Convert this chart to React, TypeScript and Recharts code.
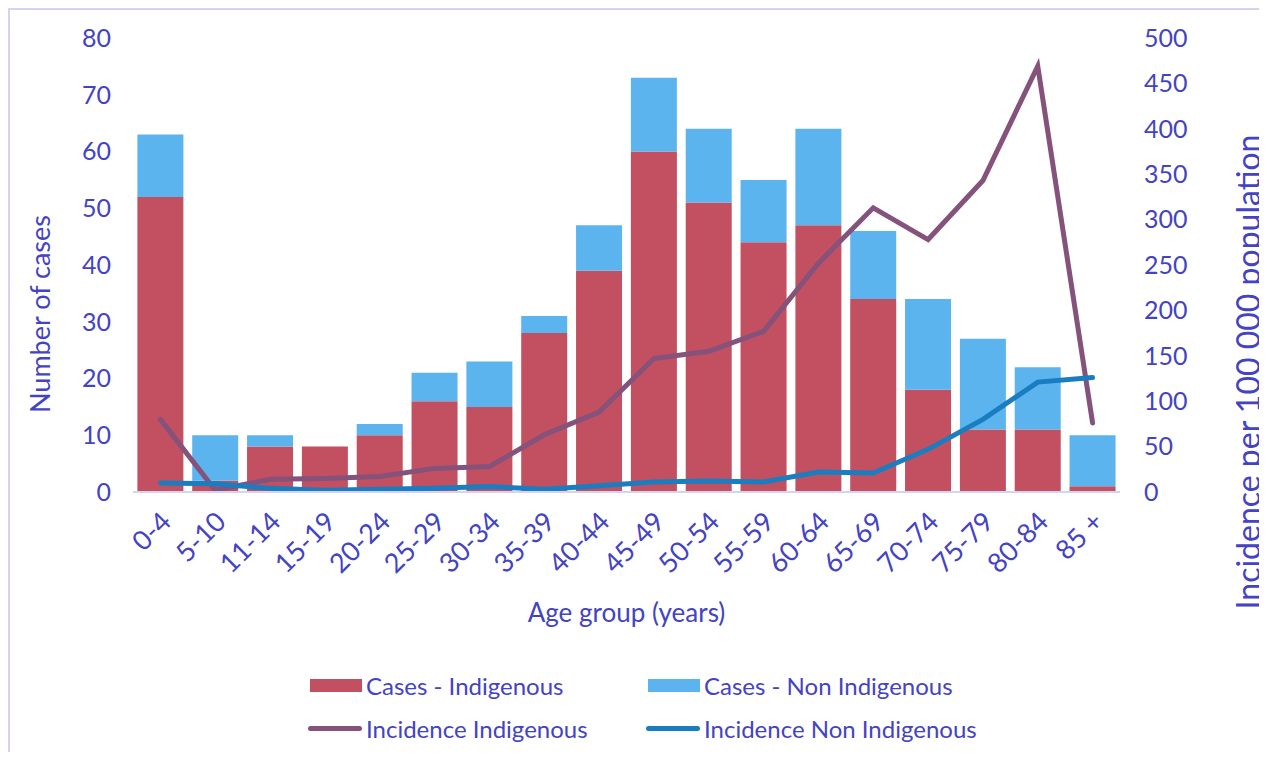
import React from "react";
import {
  Bar,
  ComposedChart,
  Legend,
  Line,
  XAxis,
  YAxis
} from "recharts";

const ageGroups = [
  "0-4", "5-10", "11-14", "15-19", "20-24", "25-29", "30-34", "35-39", "40-44",
  "45-49", "50-54", "55-59", "60-64", "65-69", "70-74", "75-79", "80-84", "85 +"
];
const casesIndigenous = [52, 2, 8, 8, 10, 16, 15, 28, 39, 60, 51, 44, 47, 34, 18, 11, 11, 1];
const casesNonIndigenous = [11, 8, 2, 0, 2, 5, 8, 3, 8, 13, 13, 11, 17, 12, 16, 16, 11, 9];
const incidenceIndigenous = [80, 2, 14, 15, 17, 26, 28, 63, 88, 147, 155, 177, 252, 313, 278, 343, 469, 76];
const incidenceNonIndigenous = [10, 9, 4, 2, 3, 4, 6, 3, 7, 11, 12, 11, 22, 21, 47, 80, 121, 126];

const leftTicks = [0, 10, 20, 30, 40, 50, 60, 70, 80];
const rightTicks = [0, 50, 100, 150, 200, 250, 300, 350, 400, 450, 500];

const data = ageGroups.map((age, i) => ({
  age,
  casesInd: casesIndigenous[i],
  casesNon: casesNonIndigenous[i],
  incInd: incidenceIndigenous[i],
  incNon: incidenceNonIndigenous[i]
}));

const TEXT = "#4343C3";
const FONT = "Lato, 'Open Sans', sans-serif";
const RED = "#C25060";
const LIGHT_BLUE = "#5CB4EF";
const PURPLE = "#84527A";
const BLUE = "#1A7DC0";

function XTick({ x, y, payload }: any) {
  return (
    <g transform={`translate(${x + 6},${y + 17})`}>
      <text
        textAnchor="end"
        transform="rotate(-45)"
        fill={TEXT}
        fontSize={27}
        fontFamily={FONT}
        dy={9}
      >
        {payload.value}
      </text>
    </g>
  );
}

function RotatedLabel({ viewBox, value, dx, dy, size }: any) {
  const cx = viewBox.x + viewBox.width / 2 + dx;
  const cy = viewBox.y + viewBox.height / 2 + dy;
  return (
    <text
      x={cx}
      y={cy}
      textAnchor="middle"
      dominantBaseline="central"
      transform={`rotate(-90, ${cx}, ${cy})`}
      fill={TEXT}
      fontSize={size}
      fontFamily={FONT}
    >
      {value}
    </text>
  );
}

function LegendBox() {
  const item = (kind: "bar" | "line", color: string, label: string) => (
    <div style={{ display: "flex", alignItems: "center", height: 43 }}>
      {kind === "bar" ? (
        <span style={{ width: 52, height: 13, background: color, marginLeft: 2 }} />
      ) : (
        <span style={{ width: 54, height: 5, borderRadius: 3, background: color }} />
      )}
      <span style={{ marginLeft: 4, fontSize: 24, color: TEXT, fontFamily: FONT }}>{label}</span>
    </div>
  );
  return (
    <div style={{ display: "grid", gridTemplateColumns: "338px 340px", paddingLeft: 298 }}>
      {item("bar", RED, "Cases - Indigenous")}
      {item("bar", LIGHT_BLUE, "Cases - Non Indigenous")}
      {item("line", PURPLE, "Incidence Indigenous")}
      {item("line", BLUE, "Incidence Non Indigenous")}
    </div>
  );
}

export default function App() {
  return (
    <div
      style={{
        width: 1259,
        height: 744,
        borderTop: "2px solid #D4D4F2",
        borderLeft: "2px solid #D4D4F2",
        boxSizing: "border-box",
        background: "#fff",
        overflow: "hidden"
      }}
    >
      <ComposedChart
        width={1257}
        height={742}
        data={data}
        margin={{ top: 28, right: 0, bottom: 160, left: 0 }}
        barCategoryGap="8%"
      >
        <XAxis
          dataKey="age"
          tick={<XTick />}
          tickLine={false}
          axisLine={{ stroke: "#D4D4F2", strokeWidth: 2 }}
          interval={0}
          height={100}
          label={{
            value: "Age group (years)",
            position: "insideBottom",
            offset: 0,
            dy: 30,
            fill: TEXT,
            fontSize: 26,
            fontFamily: FONT
          }}
        />
        <YAxis
          yAxisId="left"
          domain={[0, 80]}
          ticks={leftTicks}
          tickLine={false}
          axisLine={false}
          tickSize={0}
          tickMargin={22}
          width={123}
          tick={{ fill: TEXT, fontSize: 25, fontFamily: FONT }}
          label={<RotatedLabel value="Number of cases" dx={-32} dy={49} size={27} />}
        />
        <YAxis
          yAxisId="right"
          orientation="right"
          domain={[0, 500]}
          ticks={rightTicks}
          tickLine={false}
          axisLine={false}
          tickSize={0}
          tickMargin={24}
          width={147}
          tick={{ fill: TEXT, fontSize: 25, fontFamily: FONT, textAnchor: "start" }}
          label={<RotatedLabel value="Incidence per 100 000 population" dx={54} dy={107} size={32} />}
        />
        <Bar
          yAxisId="left"
          dataKey="casesInd"
          stackId="cases"
          fill={RED}
          name="Cases - Indigenous"
          isAnimationActive={false}
        />
        <Bar
          yAxisId="left"
          dataKey="casesNon"
          stackId="cases"
          fill={LIGHT_BLUE}
          name="Cases - Non Indigenous"
          isAnimationActive={false}
        />
        <Line
          yAxisId="right"
          dataKey="incInd"
          stroke={PURPLE}
          strokeWidth={5}
          strokeLinecap="round"
          dot={false}
          activeDot={false}
          name="Incidence Indigenous"
          isAnimationActive={false}
        />
        <Line
          yAxisId="right"
          dataKey="incNon"
          stroke={BLUE}
          strokeWidth={5}
          strokeLinecap="round"
          dot={false}
          activeDot={false}
          name="Incidence Non Indigenous"
          isAnimationActive={false}
        />
        <Legend
          layout="horizontal"
          verticalAlign="middle"
          align="center"
          content={() => <LegendBox />}
          wrapperStyle={{ left: 0, top: 654, width: 1257 }}
        />
      </ComposedChart>
    </div>
  );
}
